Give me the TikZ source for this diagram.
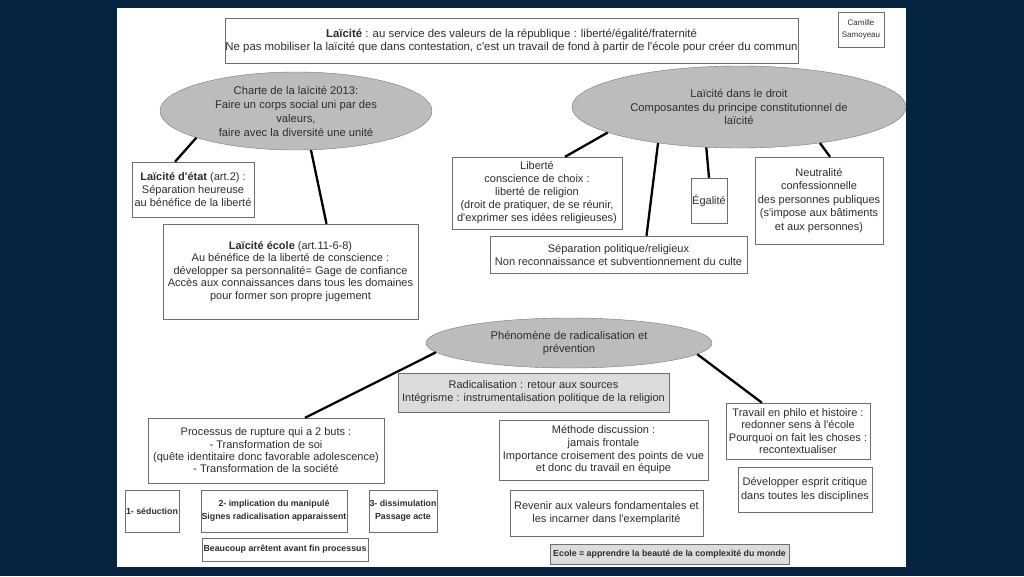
\documentclass[tikz,border=0pt]{standalone}
\usepackage{fontspec}
\setmainfont{Liberation Sans}
\usepackage{xcolor}
\usetikzlibrary{shapes.geometric}
\definecolor{fond}{RGB}{4,36,66}
\definecolor{bord}{RGB}{110,110,110}
\definecolor{bordbulle}{RGB}{120,120,120}
\definecolor{bullegris}{RGB}{188,188,188}
\definecolor{grisclair}{RGB}{220,220,220}
\definecolor{texte}{RGB}{45,45,45}
\newcommand{\apos}{\textquotesingle}

\begin{document}
\begin{tikzpicture}[
    x=1pt, y=-1pt,
    boite/.style={draw=bord, fill=white, align=center, inner sep=0, text=texte,
        font=\fontsize{11}{13}\selectfont},
    grise/.style={boite, fill=grisclair},
    petit/.style={font=\fontsize{8.8}{13}\selectfont\bfseries},
    bulle/.style={ellipse, draw=bordbulle, fill=bullegris, align=center, inner sep=0, text=texte,
        font=\fontsize{11.2}{13.5}\selectfont},
    lien/.style={line width=2.3pt, black}]
\useasboundingbox (0,0) rectangle (1024,576);
\fill[fond] (0,0) rectangle (1024,576);
\fill[white] (117,8) rectangle (906,567);

% en-tete
\node[boite, minimum width=573pt, minimum height=45pt, font=\fontsize{11.4}{13}\selectfont] (titre) at (511.5,40.5)
    {\textbf{Laïcité} : au service des valeurs de la république : liberté/égalité/fraternité\\
     Ne pas mobiliser la laïcité que dans contestation, c\apos est un travail de fond à partir de l\apos école pour créer du commun};
\node[boite, minimum width=46pt, minimum height=35pt, font=\fontsize{8}{12}\selectfont] (auteur) at (861,29.5)
    {Camille\\Samoyeau};

% charte
\node[bulle, minimum width=272pt, minimum height=78pt, font=\fontsize{11.2}{14}\selectfont] (charte) at (296,111)
    {Charte de la laïcité 2013:\\Faire un corps social uni par des\\valeurs,\\faire avec la diversité une unité};
\node[boite, minimum width=122pt, minimum height=55pt] (etat) at (193,189.5)
    {\textbf{Laïcité d\apos état} (art.2) :\\Séparation heureuse\\au bénéfice de la liberté};
\node[boite, minimum width=255pt, minimum height=95pt, font=\fontsize{11}{12.5}\selectfont] (ecole) at (290.5,271.5)
    {\textbf{Laïcité école} (art.11-6-8)\\Au bénéfice de la liberté de conscience :\\
     développer sa personnalité= Gage de confiance\\Accès aux connaissances dans tous les domaines\\
     pour former son propre jugement};

% droit
\node[bulle, minimum width=334pt, minimum height=82pt] (droit) at (739,107)
    {Laïcité dans le droit\\Composantes du principe constitutionnel de\\laïcité};
\node[boite, minimum width=170pt, minimum height=72pt] (liberte) at (537,193)
    {Liberté\\conscience de choix :\\liberté de religion\\(droit de pratiquer, de se réunir,\\
     d\apos exprimer ses idées religieuses)};
\node[boite, minimum width=257pt, minimum height=37pt] (separation) at (618.5,254.5)
    {Séparation politique/religieux\\Non reconnaissance et subventionnement du culte};
\node[boite, minimum width=36pt, minimum height=45pt] (egalite) at (709,200.5) {Égalité};
\node[boite, minimum width=128pt, minimum height=87pt, font=\fontsize{11}{13.5}\selectfont] (neutralite) at (819,200.5)
    {Neutralité\\confessionnelle\\des personnes publiques\\(s\apos impose aux bâtiments\\et aux personnes)};

% radicalisation
\node[bulle, minimum width=286pt, minimum height=50pt] (phenomene) at (569,343)
    {Phénomène de radicalisation et\\prévention};
\node[grise, minimum width=271pt, minimum height=39pt] (radical) at (533.5,392.5)
    {Radicalisation : retour aux sources\\Intégrisme : instrumentalisation politique de la religion};
\node[boite, minimum width=236pt, minimum height=65pt, font=\fontsize{11}{12.3}\selectfont] (processus) at (266,450.5)
    {Processus de rupture qui a 2 buts :\\- Transformation de soi\\
     (quête identitaire donc favorable adolescence)\\- Transformation de la société};
\node[boite, petit, minimum width=54pt, minimum height=42pt] (seduction) at (152,511) {1- séduction};
\node[boite, petit, minimum width=146pt, minimum height=42pt] (implication) at (274,511)
    {2- implication du manipulé\\Signes radicalisation apparaissent};
\node[boite, petit, minimum width=68pt, minimum height=42pt] (dissimulation) at (403,511)
    {3- dissimulation\\Passage acte};
\node[boite, petit, minimum width=166pt, minimum height=23pt] (arret) at (285,549.5)
    {Beaucoup arrêtent avant fin processus};
\node[boite, minimum width=209pt, minimum height=60pt, font=\fontsize{11}{12.7}\selectfont] (methode) at (603.5,450)
    {Méthode discussion :\\jamais frontale\\Importance croisement des points de vue\\et donc du travail en équipe};
\node[boite, minimum width=193pt, minimum height=46pt] (valeurs) at (606.5,513)
    {Revenir aux valeurs fondamentales et\\les incarner dans l\apos exemplarité};
\node[grise, petit, minimum width=239pt, minimum height=20pt] (monde) at (669.5,554)
    {Ecole = apprendre la beauté de la complexité du monde};
\node[boite, minimum width=144pt, minimum height=56pt, font=\fontsize{11}{12.5}\selectfont] (travail) at (798,431)
    {Travail en philo et histoire :\\redonner sens à l\apos école\\Pourquoi on fait les choses :\\recontextualiser};
\node[boite, minimum width=134pt, minimum height=45pt, font=\fontsize{11}{14}\selectfont] (critique) at (805,489.5)
    {Développer esprit critique\\dans toutes les disciplines};

% liens
\draw[lien] (charte.195) -- ([xshift=-18pt]etat.north);
\draw[lien] (charte.291) -- ([xshift=36pt]ecole.north);
\draw[lien] (droit.191) -- ([xshift=28pt]liberte.north);
\draw[lien] (droit.204) -- ([xshift=28pt]separation.north);
\draw[lien] (droit.231) -- (egalite.north);
\draw[lien] (droit.336) -- ([xshift=11pt]neutralite.north);
\draw[lien] (phenomene.184) -- ([xshift=39pt]processus.north);
\draw[lien] (phenomene.355) -- ([xshift=-36pt]travail.north);

\end{tikzpicture}
\end{document}
